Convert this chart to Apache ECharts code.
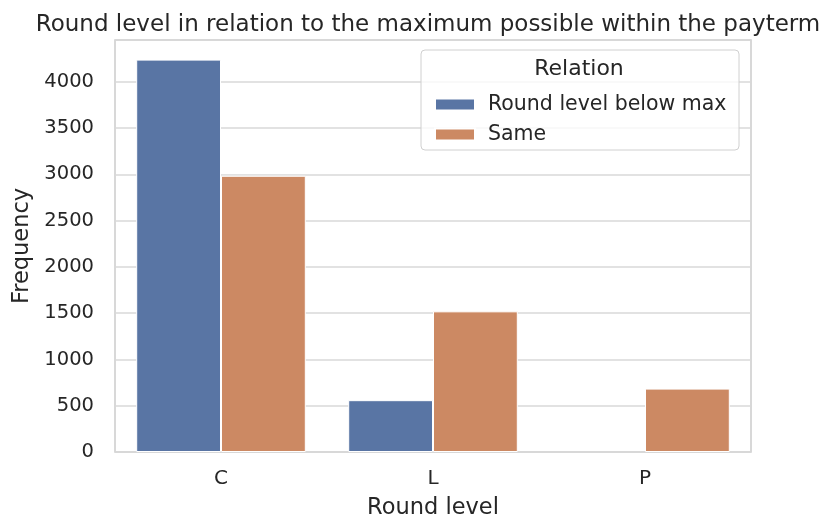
<!DOCTYPE html>
<html>
<head>
<meta charset="utf-8">
<script src="https://cdn.jsdelivr.net/npm/echarts@6/dist/echarts.min.js"></script>
<style>html,body{margin:0;padding:0;background:#fff}#c{width:821px;height:519px}</style>
</head>
<body>
<div id="c"></div>
<script>
const categories = ['C', 'L', 'P'];
const seriesNames = ['Round level below max', 'Same'];
const belowMax = [4240, 560, null];
const same = [2985, 1520, 685];
const yMax = 4452;

const FONT = 'DejaVu Sans';
const TXT = '#262626';
const chart = echarts.init(document.getElementById('c'), null, {renderer: 'canvas'});
chart.setOption({
  backgroundColor: '#ffffff',
  animation: false,
  textStyle: {fontFamily: FONT},
  title: {
    text: 'Round level in relation to the maximum possible within the payterm',
    left: 423, top: 9, textAlign: 'center',
    textStyle: {fontFamily: FONT, fontSize: 23, fontWeight: 'normal', color: TXT}
  },
  grid: {left: 115, right: 70, top: 40, bottom: 67, show: true, borderColor: '#cccccc', borderWidth: 1.5,
         backgroundColor: 'transparent', containLabel: false, outerBoundsMode: 'none'},
  xAxis: {
    type: 'category', data: categories,
    name: 'Round level', nameLocation: 'middle', nameGap: 45,
    nameTextStyle: {fontFamily: FONT, fontSize: 22.5, color: TXT},
    axisLine: {show: false}, axisTick: {show: false},
    axisLabel: {fontFamily: FONT, fontSize: 20, color: TXT, margin: 17}
  },
  yAxis: {
    type: 'value', min: 0, max: yMax, interval: 500,
    name: 'Frequency', nameLocation: 'middle', nameGap: 81,
    nameTextStyle: {fontFamily: FONT, fontSize: 22.5, color: TXT},
    axisLine: {show: false}, axisTick: {show: false},
    axisLabel: {fontFamily: FONT, fontSize: 19.5, color: TXT, margin: 21, showMaxLabel: false,
      formatter: v => (v % 500 === 0 ? String(v) : '')},
    splitLine: {lineStyle: {color: '#d9d9d9', width: 1.5}}
  },
  legend: {
    orient: 'vertical', left: 429, top: 89, z: 10,
    itemWidth: 40, itemHeight: 12, itemGap: 9, icon: 'rect',
    textStyle: {fontFamily: FONT, fontSize: 20.5, color: TXT, lineHeight: 20, padding: [0, 0, 0, 8]},
    data: seriesNames
  },
  graphic: [
    {type: 'rect', z: 3, shape: {x: 421, y: 50, width: 318, height: 100, r: 4},
     style: {fill: 'rgba(255,255,255,0.8)', stroke: '#d0d0d0', lineWidth: 1}},
    {type: 'text', z: 4, x: 579, y: 69,
     style: {text: 'Relation', font: '22px "DejaVu Sans"', fill: TXT, textAlign: 'center', textVerticalAlign: 'middle'}}
  ],
  series: [
    {name: seriesNames[0], type: 'bar', data: belowMax, barGap: '0%', barCategoryGap: '20%',
     itemStyle: {color: '#5975a4', borderColor: '#ffffff', borderWidth: 1}},
    {name: seriesNames[1], type: 'bar', data: same, barGap: '0%', barCategoryGap: '20%',
     itemStyle: {color: '#cc8963', borderColor: '#ffffff', borderWidth: 1}}
  ]
});
</script>
</body>
</html>
